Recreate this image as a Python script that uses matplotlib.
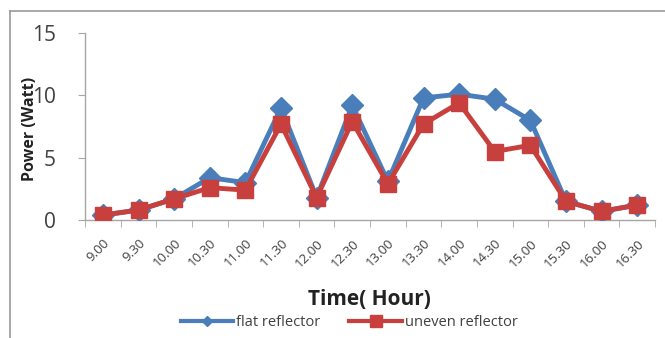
import matplotlib
matplotlib.use("Agg")
import matplotlib.pyplot as plt
from matplotlib.lines import Line2D

plt.rcParams['font.family'] = ['Open Sans', 'DejaVu Sans']

times = ["9.00", "9.30", "10.00", "10.30", "11.00", "11.30", "12.00", "12.30",
         "13.00", "13.30", "14.00", "14.30", "15.00", "15.30", "16.00", "16.30"]
flat_power = [0.4, 0.8, 1.7, 3.4, 3.0, 9.0, 1.8, 9.2, 3.1, 9.8, 10.1, 9.7, 8.0, 1.5, 0.7, 1.2]
uneven_power = [0.4, 0.8, 1.7, 2.6, 2.4, 7.7, 1.8, 7.9, 2.9, 7.7, 9.4, 5.5, 6.0, 1.5, 0.7, 1.2]
y_ticks = [0, 5, 10, 15]

blue = "#4a7ebb"
red = "#c8403d"
axis_grey = "#a6a6a6"
text_grey = "#404040"

fig = plt.figure(figsize=(6.65, 3.38), dpi=100)
ax = fig.add_axes([0.128, 0.349, 0.857, 0.553])

x = list(range(len(times)))
ax.plot(x, flat_power, color=blue, lw=3.5, marker='D', ms=11,
        markerfacecolor=blue, markeredgecolor=blue, zorder=3, label="flat reflector")
ax.plot(x, uneven_power, color=red, lw=3.5, marker='s', ms=12,
        markerfacecolor=red, markeredgecolor=red, zorder=4, label="uneven reflector")

ax.set_xlim(-0.5, len(times) - 0.5)
ax.set_ylim(0, 15)
ax.set_yticks(y_ticks)
ax.set_yticklabels([str(v) for v in y_ticks], fontsize=15, color=text_grey)
ax.set_xticks(x)
ax.set_xticklabels(times, rotation=45, ha='right', rotation_mode='anchor',
                   fontsize=9.5, color=text_grey)
ax.tick_params(axis='x', which='major', length=0, pad=12)
ax.set_xticks([i - 0.5 for i in range(len(times) + 1)], minor=True)
ax.tick_params(axis='x', which='minor', length=5, color=axis_grey, direction='out')
ax.tick_params(axis='y', length=5, color=axis_grey, direction='out', pad=16)

for s in ['top', 'right']:
    ax.spines[s].set_visible(False)
for s in ['left', 'bottom']:
    ax.spines[s].set_color(axis_grey)
    ax.spines[s].set_linewidth(1.0)

ax.set_ylabel("Power (Watt)", fontsize=11.5, fontweight='bold', color='#222222')
ax.yaxis.set_label_coords(-0.082, 0.49)

fig.text(0.556, 0.115, "Time( Hour)", fontsize=15, fontweight='bold',
         color='#222222', ha='center', va='center')

handles = [Line2D([0], [0], color=blue, lw=3, marker='D', ms=5),
           Line2D([0], [0], color=red, lw=3, marker='s', ms=8)]
fig.legend(handles, ["flat reflector", "uneven reflector"], loc='center',
           bbox_to_anchor=(0.525, 0.047), ncol=2, frameon=False, fontsize=10.5,
           handlelength=3.6, columnspacing=2.0, handletextpad=0.2,
           labelcolor=text_grey)

# chart frame
fig.add_artist(Line2D([10/665, 10/665], [0, 1 - 11/338], color='#999999', lw=1.2,
                      transform=fig.transFigure))
fig.add_artist(Line2D([10/665, 1], [1 - 11/338, 1 - 11/338], color='#999999', lw=1.2,
                      transform=fig.transFigure))

fig.savefig("out.png", dpi=100, facecolor='white')
